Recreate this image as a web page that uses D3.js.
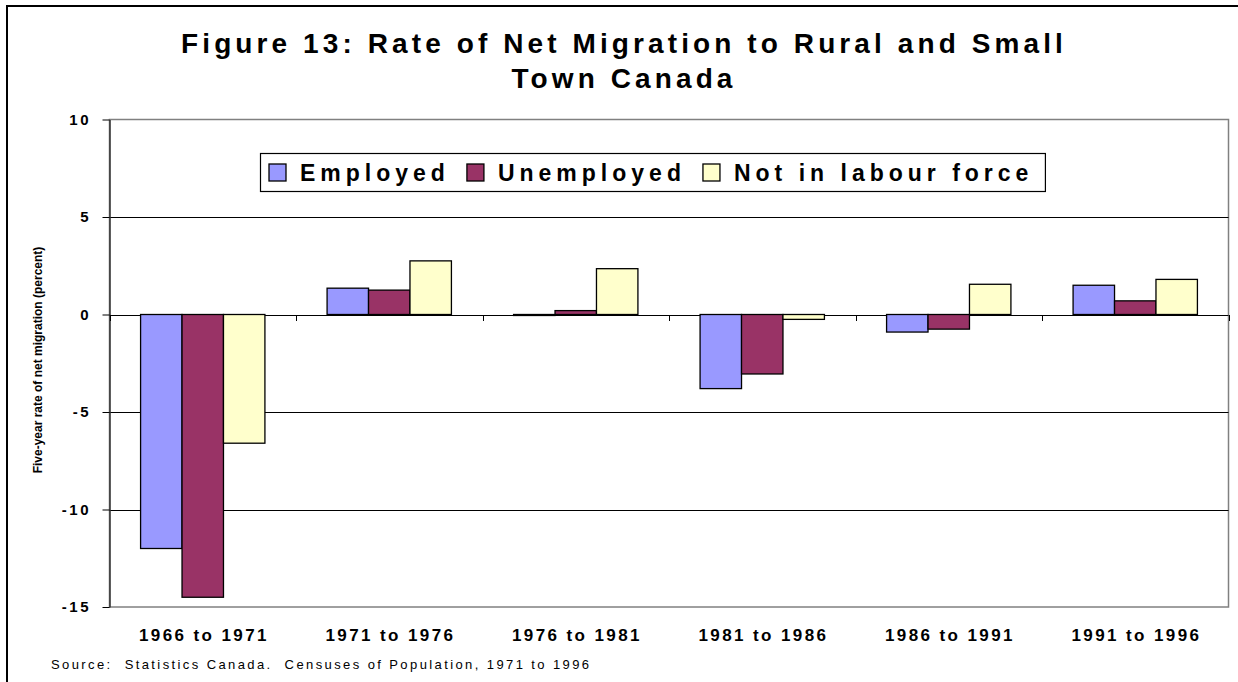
<!DOCTYPE html>
<html>
<head>
<meta charset="utf-8">
<script src="https://cdn.jsdelivr.net/npm/d3@7"></script>
<style>
  body { margin: 0; background: #fff; }
  svg { display: block; font-family: "Liberation Sans", Arial, sans-serif; }
</style>
</head>
<body>
<svg id="chart" width="1238" height="682"></svg>
<script>
// data
const periods = ["1966 to 1971", "1971 to 1976", "1976 to 1981", "1981 to 1986", "1986 to 1991", "1991 to 1996"];
const seriesNames = ["Employed", "Unemployed", "Not in labour force"];
const employed = [-12.0, 1.35, -0.05, -3.8, -0.9, 1.5];
const unemployed = [-14.5, 1.25, 0.2, -3.05, -0.75, 0.7];
const notInLabourForce = [-6.6, 2.75, 2.35, -0.25, 1.55, 1.8];
const seriesColors = ["#9999ff", "#993366", "#ffffcc"];
const yTicks = [10, 5, 0, -5, -10, -15];
const titleLines = ["Figure 13: Rate of Net Migration to Rural and Small", "Town Canada"];
const yLabel = "Five-year rate of net migration (percent)";
const sourceNote = "Source:  Statistics Canada.  Censuses of Population, 1971 to 1996";

const seriesValues = [employed, unemployed, notInLabourForce];
const data = periods.map((p, i) => {
  const row = { period: p };
  seriesNames.forEach((s, j) => { row[s] = seriesValues[j][i]; });
  return row;
});

const svg = d3.select("#chart");
const plot = { left: 109.5, right: 1228.5, top: 119.5, bottom: 607 };

// outer frame (only left and top edges fall inside the window)
svg.append("rect")
  .attr("x", 7).attr("y", 6)
  .attr("width", 1250).attr("height", 700)
  .attr("fill", "#fff")
  .attr("stroke", "#000")
  .attr("stroke-width", 2);

const x0 = d3.scaleBand()
  .domain(periods)
  .range([plot.left, plot.right])
  .padding(0);

const x1 = d3.scaleBand()
  .domain(seriesNames)
  .range([0, x0.bandwidth()])
  .paddingInner(0)
  .paddingOuter(0.75);

const y = d3.scaleLinear()
  .domain([-15, 10])
  .range([plot.bottom, plot.top]);

const color = d3.scaleOrdinal().domain(seriesNames).range(seriesColors);

// title
svg.append("g")
  .selectAll("text")
  .data(titleLines)
  .join("text")
  .attr("x", 624)
  .attr("y", (d, i) => 53.3 + i * 35)
  .attr("text-anchor", "middle")
  .attr("font-size", 28)
  .attr("font-weight", "bold")
  .attr("letter-spacing", 4.1)
  .text(d => d);

// plot border
svg.append("rect")
  .attr("x", plot.left).attr("y", plot.top)
  .attr("width", plot.right - plot.left)
  .attr("height", plot.bottom - plot.top)
  .attr("fill", "none")
  .attr("stroke", "#808080")
  .attr("stroke-width", 1.5);

// gridlines
svg.append("g")
  .selectAll("line")
  .data(yTicks.filter(t => t !== 10 && t !== -15))
  .join("line")
  .attr("x1", plot.left).attr("x2", plot.right)
  .attr("y1", d => Math.round(y(d)) + 0.5)
  .attr("y2", d => Math.round(y(d)) + 0.5)
  .attr("stroke", "#000")
  .attr("stroke-width", 1);

// y axis
const yAxis = g =>
  g
    .attr("transform", `translate(${plot.left},0)`)
    .call(d3.axisLeft(y).tickValues(yTicks).tickFormat(d => String(d)).tickSize(7).tickSizeOuter(0))
    .call(g => g.select(".domain").attr("stroke", "#333").attr("stroke-width", 1.5))
    .call(g => g.selectAll(".tick line").attr("stroke", "#000"))
    .call(g =>
      g.selectAll(".tick text")
        .style("font-family", "'Liberation Sans', Arial, sans-serif")
        .style("font-size", "15px")
        .style("font-weight", "bold")
        .style("letter-spacing", "2.5px")
        .attr("fill", "#000")
        .attr("x", -18.5)
    );
svg.append("g").call(yAxis);

// x axis ticks on the zero line
const boundaries = periods.map(p => x0(p)).concat([plot.right]);
svg.append("g")
  .selectAll("line")
  .data(boundaries)
  .join("line")
  .attr("x1", d => Math.round(d) + 0.5)
  .attr("x2", d => Math.round(d) + 0.5)
  .attr("y1", Math.round(y(0)))
  .attr("y2", Math.round(y(0)) + 6)
  .attr("stroke", "#000")
  .attr("stroke-width", 1);

// category labels
svg.append("g")
  .selectAll("text")
  .data(periods)
  .join("text")
  .attr("x", d => x0(d) + x0.bandwidth() / 2 + 1.2)
  .attr("y", 640.7)
  .attr("text-anchor", "middle")
  .attr("font-size", 17)
  .attr("font-weight", "bold")
  .attr("letter-spacing", 2.4)
  .text(d => d);

// bars
svg.append("g")
  .selectAll("g")
  .data(data)
  .join("g")
  .attr("transform", d => `translate(${x0(d.period)},0)`)
  .selectAll("rect")
  .data(d => seriesNames.map(key => ({ key, value: d[key] })))
  .join("rect")
  .attr("x", d => x1(d.key))
  .attr("y", d => y(Math.max(0, d.value)))
  .attr("width", x1.bandwidth())
  .attr("height", d => Math.abs(y(d.value) - y(0)))
  .attr("fill", d => color(d.key))
  .attr("stroke", "#000")
  .attr("stroke-width", 1.3);

// y axis title
svg.append("text")
  .attr("transform", "translate(42,360) rotate(-90)")
  .attr("text-anchor", "middle")
  .attr("font-size", 12)
  .attr("font-weight", "bold")
  .text(yLabel);

// legend
const legend = svg.append("g");
const legendBox = legend.append("rect")
  .attr("fill", "#fff")
  .attr("stroke", "#000")
  .attr("stroke-width", 1.2);
let lx = 269;
const legendMid = 172.5;
seriesNames.forEach(name => {
  legend.append("rect")
    .attr("x", lx).attr("y", legendMid - 8.5)
    .attr("width", 17).attr("height", 17)
    .attr("fill", color(name))
    .attr("stroke", "#000")
    .attr("stroke-width", 1.3);
  const t = legend.append("text")
    .attr("x", lx + 31)
    .attr("y", legendMid + 8.3)
    .attr("font-size", 23)
    .attr("font-weight", "bold")
    .attr("letter-spacing", 5)
    .text(name);
  lx += 31 + t.node().getComputedTextLength() + 17;
});
legendBox
  .attr("x", 260.5).attr("y", 153.5)
  .attr("width", lx - 260.5 - 5)
  .attr("height", 38);

// source note
svg.append("text")
  .attr("x", 51)
  .attr("y", 669)
  .attr("font-size", 13)
  .attr("letter-spacing", 2.4)
  .style("white-space", "pre")
  .text(sourceNote);
</script>
</body>
</html>
